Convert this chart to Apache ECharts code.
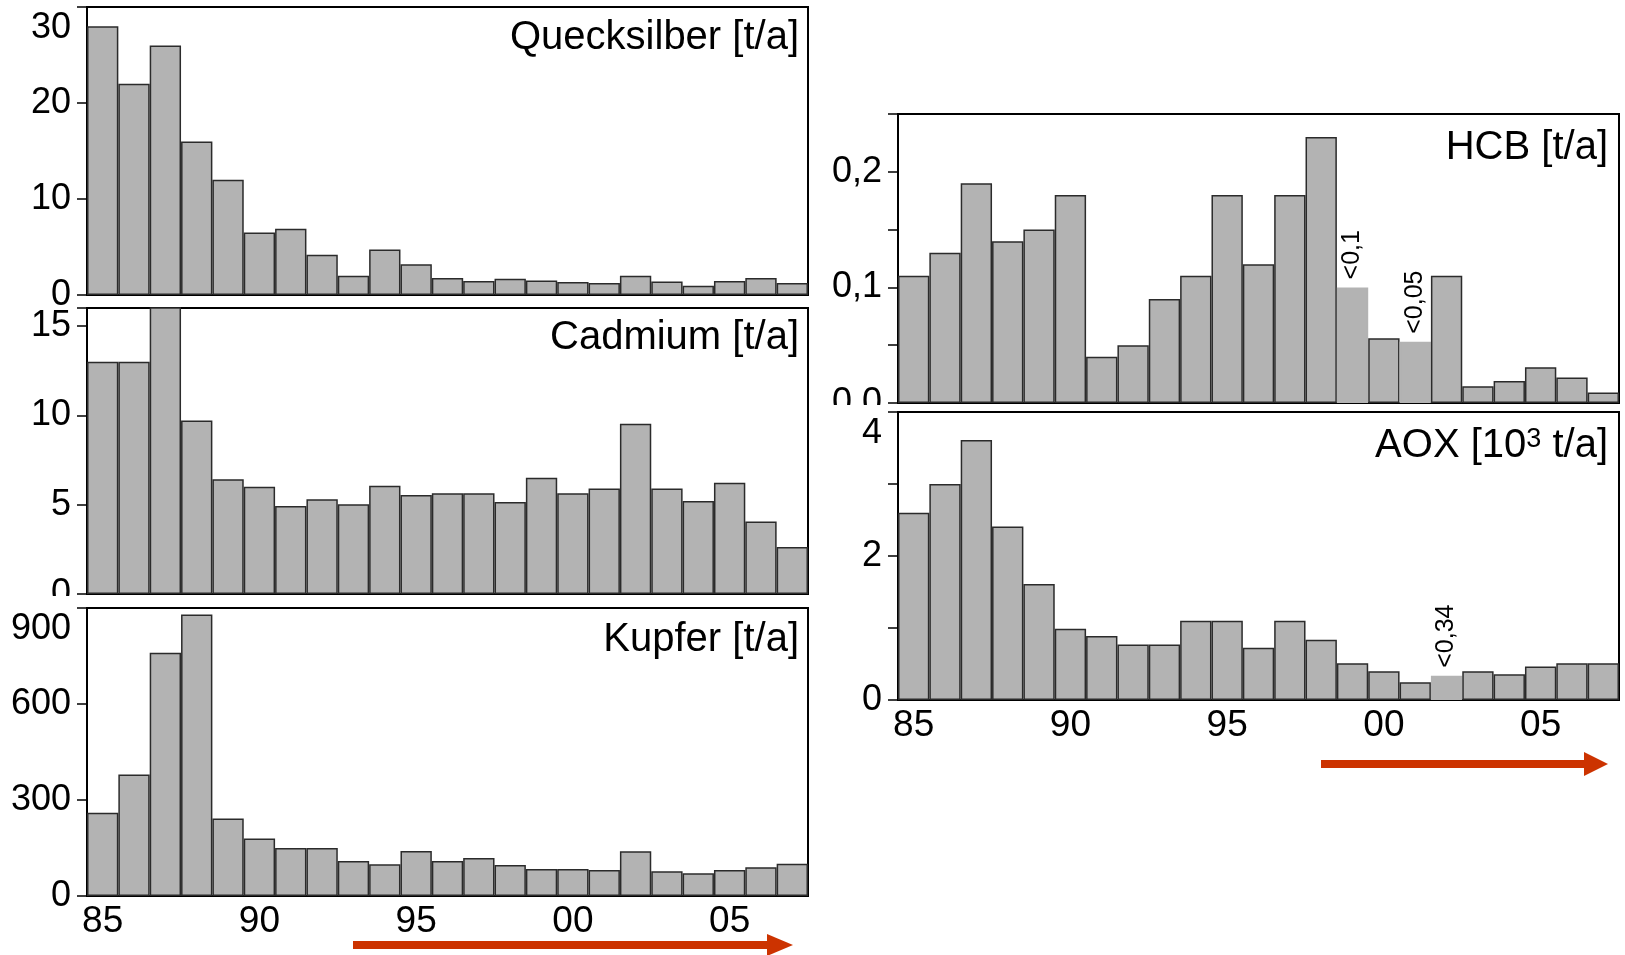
<!DOCTYPE html>
<html>
<head>
<meta charset="utf-8">
<title>Frachten 1985 - 2007</title>
<script src="https://cdn.jsdelivr.net/npm/echarts@6/dist/echarts.min.js"></script>
<style>
  html, body { margin: 0; padding: 0; background: #fff; }
  #main { width: 1625px; height: 955px; }
</style>
</head>
<body>
<div id="main"></div>
<script>
// Jahre 1985 - 2007
const years = ['1985', '1986', '1987', '1988', '1989', '1990', '1991', '1992', '1993', '1994', '1995', '1996',
  '1997', '1998', '1999', '2000', '2001', '2002', '2003', '2004', '2005', '2006', '2007'];

// Frachten
const quecksilber = [28.0, 22.0, 26.0, 16.0, 12.0, 6.5, 6.9, 4.2, 2.0, 4.75, 3.2, 1.77, 1.46, 1.7, 1.5, 1.35, 1.25, 2.0, 1.4, 0.97, 1.46, 1.77, 1.25];
const cadmium = [13.0, 13.0, 16.6, 9.7, 6.42, 6.0, 4.93, 5.3, 5.02, 6.05, 5.54, 5.63, 5.63, 5.15, 6.51, 5.63, 5.9, 9.53, 5.9, 5.2, 6.23, 4.05, 2.63];
const kupfer = [260, 380, 760, 880, 242, 180, 150, 150, 109, 99, 141, 109, 119, 97, 84, 84, 81, 140, 77, 71, 81, 90, 101];
const hcb = [0.11, 0.13, 0.19, 0.14, 0.15, 0.18, 0.04, 0.05, 0.09, 0.11, 0.18, 0.12, 0.18, 0.23, 0.10, 0.056, 0.053, 0.11, 0.0145, 0.019, 0.031, 0.022, 0.009];
const aox = [2.6, 3.0, 3.61, 2.41, 1.61, 0.99, 0.89, 0.77, 0.77, 1.1, 1.1, 0.725, 1.1, 0.836, 0.51, 0.40, 0.245, 0.337, 0.40, 0.356, 0.467, 0.51, 0.51];

// Werte unter Bestimmungsgrenze (Index -> Text)
const hcbNotes = { 14: '<0,1', 16: '<0,05' };
const aoxNotes = { 17: '<0,34' };

const FONT = '"Liberation Sans", Arial, Helvetica, sans-serif';

const panels = [
  { name: 'Quecksilber [t/a]', data: quecksilber, max: 30, interval: 10, step: 10, shiftTop: true,
    left: 87, top: 7, height: 288, titleRight: 826, titleTop: 18 },
  { name: 'Cadmium [t/a]', data: cadmium, max: 16, interval: 5, step: 5,
    left: 87, top: 308, height: 286, titleRight: 826, titleTop: 318 },
  { name: 'Kupfer [t/a]', data: kupfer, max: 900, interval: 300, step: 300, shiftTop: true, xLabels: true,
    left: 87, top: 608, height: 288, titleRight: 826, titleTop: 620 },
  { name: 'HCB [t/a]', data: hcb, notes: hcbNotes, max: 0.25, interval: 0.05, step: 0.1, decimals: 1,
    left: 898, top: 114, height: 289, titleRight: 17, titleTop: 128 },
  { name: 'AOX [10{sup|3} t/a]', data: aox, notes: aoxNotes, max: 4, interval: 1, step: 2, shiftTop: true, xLabels: true,
    left: 898, top: 412, height: 288, titleRight: 17, titleTop: 426 }
];

function tickFormatter(p) {
  return function (v) {
    const k = Math.round(v / p.step * 1000) / 1000;
    if (!Number.isInteger(k)) return '';
    const s = p.decimals ? v.toFixed(p.decimals).replace('.', ',') : String(Math.round(v));
    // oberste Beschriftung sitzt etwas tiefer
    if (p.shiftTop && Math.abs(v - p.max) < 1e-9) return '{low|' + s + '}';
    return s;
  };
}

function barData(p) {
  const notes = p.notes || {};
  return p.data.map(function (v, k) {
    if (!notes[k]) return v;
    return {
      value: v,
      itemStyle: { borderColor: '#b3b3b3' },
      label: {
        show: true,
        formatter: notes[k],
        position: 'top',
        rotate: 90,
        align: 'left',
        verticalAlign: 'middle',
        distance: 8,
        fontSize: 25,
        color: '#000',
        fontFamily: FONT
      }
    };
  });
}

const chart = echarts.init(document.getElementById('main'), null, { renderer: 'canvas' });

const option = {
  animation: false,
  backgroundColor: '#fff',
  textStyle: { fontFamily: FONT },
  title: panels.map(function (p) {
    return {
      text: p.name,
      right: p.titleRight,
      top: p.titleTop,
      padding: 0,
      textStyle: {
        fontSize: 40, fontWeight: 'normal', color: '#000', fontFamily: FONT,
        rich: { sup: { fontSize: 27, verticalAlign: 'top' } }
      }
    };
  }),
  grid: panels.map(function (p) {
    return {
      left: p.left, top: p.top, width: 721, height: p.height,
      show: true, borderColor: '#000', borderWidth: 2,
      backgroundColor: 'transparent',
      containLabel: false, outerBoundsMode: 'none'
    };
  }),
  xAxis: panels.map(function (p, i) {
    return {
      type: 'category',
      gridIndex: i,
      data: years,
      axisTick: { show: false },
      axisLine: { lineStyle: { color: '#000', width: 2 } },
      axisLabel: {
        show: !!p.xLabels,
        interval: 4,
        formatter: function (v) { return v.slice(2); },
        fontSize: 37,
        color: '#000',
        margin: 7,
        fontFamily: FONT
      }
    };
  }),
  yAxis: panels.map(function (p, i) {
    return {
      type: 'value',
      gridIndex: i,
      min: 0,
      max: p.max,
      interval: p.interval,
      splitLine: { show: false },
      axisLine: { show: true, lineStyle: { color: '#000', width: 2 } },
      axisTick: { show: true, length: 10, lineStyle: { color: '#000', width: 1.5 } },
      axisLabel: {
        fontSize: 36,
        color: '#000',
        margin: 16,
        fontFamily: FONT,
        formatter: tickFormatter(p),
        rich: { low: { padding: [42, 0, 0, 0] } }
      }
    };
  }),
  series: panels.map(function (p, i) {
    return {
      type: 'bar',
      name: p.name,
      xAxisIndex: i,
      yAxisIndex: i,
      barCategoryGap: 0,
      clip: true,
      silent: true,
      itemStyle: { color: '#b3b3b3', borderColor: '#2b2b2b', borderWidth: 1.5 },
      data: barData(p)
    };
  }),
  graphic: [
    // angeschnittene Null-Beschriftungen wie im Original
    { type: 'rect', z: 100, shape: { x: 0, y: 596, width: 76, height: 14 }, style: { fill: '#fff' } },
    { type: 'rect', z: 100, shape: { x: 815, y: 405, width: 72, height: 13 }, style: { fill: '#fff' } },
    // Pfeile
    { type: 'line', z: 100, shape: { x1: 353, y1: 945, x2: 770, y2: 945 }, style: { stroke: '#cc3300', lineWidth: 8 } },
    { type: 'polygon', z: 100, shape: { points: [[767, 934], [793, 945], [767, 956]] }, style: { fill: '#cc3300' } },
    { type: 'line', z: 100, shape: { x1: 1321, y1: 764, x2: 1587, y2: 764 }, style: { stroke: '#cc3300', lineWidth: 8 } },
    { type: 'polygon', z: 100, shape: { points: [[1584, 752], [1608, 764], [1584, 776]] }, style: { fill: '#cc3300' } }
  ]
};

chart.setOption(option);
</script>
</body>
</html>
